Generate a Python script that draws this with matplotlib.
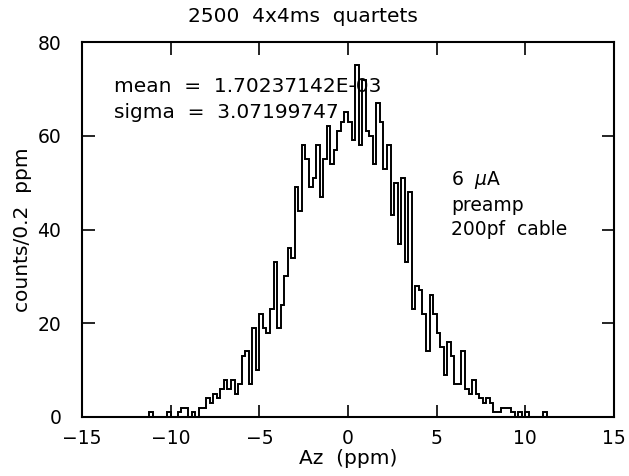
import numpy as np
import matplotlib
matplotlib.use('Agg')
import matplotlib.pyplot as plt

# histogram contents, 0.2 ppm bins starting at -11.2 ppm
bin_start = -11.2
bin_width = 0.2
counts = [1, 0, 0, 0, 0, 1, 0, 0, 1, 2,
          2, 0, 1, 0, 2, 2, 4, 3, 5, 4,
          6, 8, 6, 8, 5, 7, 13, 14, 7, 19,
          10, 22, 19, 18, 23, 33, 19, 24, 30, 36,
          34, 49, 44, 58, 55, 49, 51, 58, 47, 55,
          62, 54, 57, 61, 63, 65, 63, 59, 75, 58,
          72, 61, 60, 54, 67, 63, 53, 58, 43, 50,
          37, 51, 33, 48, 23, 28, 27, 22, 14, 26,
          22, 18, 15, 9, 16, 13, 7, 7, 14, 6,
          5, 8, 5, 4, 3, 4, 3, 1, 1, 2,
          2, 2, 1, 0, 1, 0, 1, 0, 0, 0,
          0, 1]

title = "2500  4x4ms  quartets"
stats = ["mean  =  1.70237142E-03", "sigma  =  3.07199747"]
notes = [r"6  $\mu$A", "preamp", "200pf  cable"]

edges = bin_start + bin_width * np.arange(len(counts) + 1)

plt.rcParams['font.family'] = ['DejaVu Sans']
plt.rcParams['mathtext.fontset'] = 'dejavusans'

fig = plt.figure(figsize=(6.29, 4.76), dpi=100)
ax = fig.add_axes([82/629, 1 - 417/476, (614 - 82)/629, (417 - 42)/476])

ax.stairs(counts, edges, color='black', lw=1.4, baseline=0)

ax.set_xlim(-15, 15)
ax.set_ylim(0, 80)
ax.set_xticks([-15, -10, -5, 0, 5, 10, 15])
ax.set_yticks([0, 20, 40, 60, 80])
ax.set_xticklabels(["\u221215", "\u221210", "\u22125", "0", "5", "10", "15"])
ax.tick_params(direction='in', length=9, width=1.2, top=True, right=True,
               labelsize=13.5)
ax.tick_params(axis='x', pad=9)
ax.tick_params(axis='y', pad=15)
for s in ax.spines.values():
    s.set_linewidth(1.5)

ax.set_xlabel("Az  (ppm)", fontsize=14.5, labelpad=0)
ax.set_ylabel("counts/0.2  ppm", fontsize=14.5, labelpad=4)

fig.text(303/629, 1 - 17/476, title, ha='center', va='center', fontsize=14.5)

for i, s in enumerate(stats):
    ax.text(-13.2, 70.6 - 5.6*i, s, fontsize=14.5, va='center', ha='left')
for i, s in enumerate(notes):
    ax.text(5.8, 50.5 - 5.3*i, s, fontsize=13.5, va='center', ha='left')

fig.savefig("out.png", dpi=100)
